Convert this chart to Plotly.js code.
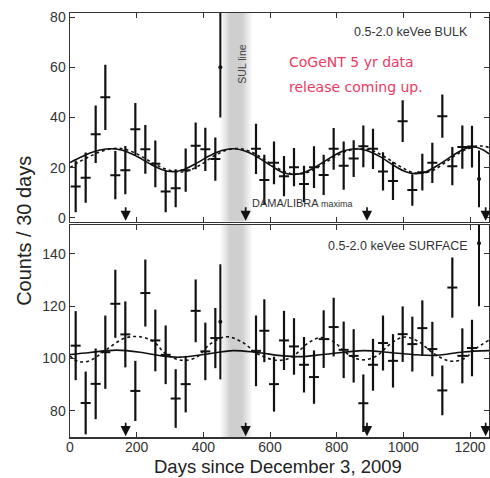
<!DOCTYPE html>
<html>
<head>
<meta charset="utf-8">
<script src="https://cdn.plot.ly/plotly-3.0.1.min.js"></script>
<style>html,body{margin:0;padding:0;background:#fff;}#chart{width:490px;height:478px;}</style>
</head>
<body>
<div id="chart"></div>
<script>
// ---- data ----
var binDays = [17,47,77,106,136,166,196,226,256,287,317,347,377,406,436,
  558,583,612,642,672,702,732,761,791,821,851,880,909,939,969,998,1027,1057,1087,1117,1147,1177,1206];
var bulkCounts = [12.5,16,33.3,48,17,19,35.3,27.3,21.5,10.5,11.8,19,28.7,27.3,23.4,
  27.5,15.1,21.9,16.6,20.2,13.5,20.2,17.1,27.5,20.8,23.6,28.5,27.5,18.5,14.7,38.5,11.1,18.2,21.9,40.5,20.6,28.2,28.4];
var bulkErr = [10.3,10,11.5,13,9.6,9.6,10.4,9.7,9.3,8.3,7.6,8.6,9.3,8.6,8.6,
  10,10,8.5,8,7.6,7.3,8.3,8,8.3,9.6,7.3,8.3,8,7.6,7.6,8.3,6.3,7.3,8,8.6,7.6,8.6,8.3];
var surfCounts = [104.9,83,90.3,102.4,120.9,109.2,87.6,125,106.9,101.4,84.7,90.2,118.2,102.7,107.8,
  102.9,110.6,90.2,106.9,104.6,97.6,92.9,107.4,112,103.3,101,82.9,97.6,105.9,99.1,109.3,105.5,111.6,103.6,87.8,127.1,101,104];
var surfErr = [13.2,12,13.5,14,13,12.6,11.5,12.8,11.8,11.2,11.2,10.8,12,11,11.5,
  13.5,12,10.5,11.3,10.8,10.6,10.2,11,11.2,10.8,10.2,11,9.9,10.5,10.2,10.6,10.5,10.6,10.4,9.5,11.5,10.5,10.8];
var binHalfWidth = 15;

// partial / special bins (SUL line bin and last partial bin)
var specialDays = [451, 1227];
var bulkSpecial = [60, 15.5];
var bulkSpecialErrUp = [25, 11.3];
var bulkSpecialErrDown = [20, 11.3];
var surfSpecial = [114, 144];
var surfSpecialErr = [22, 24];

// fit curves
var bulkFitDays = [0,30,60,90,125,160,200,240,275,307,340,380,420,455,490,525,565,605,640,672,705,745,785,820,855,890,930,970,1005,1037,1070,1110,1150,1185,1212,1240,1257];
var bulkFitSolid = [22,24,25.8,27,27.5,26.8,24.5,21.5,19.3,18.4,19.2,21.8,24.8,26.8,27.5,26.6,24,20.6,18,17.3,18.2,21,24.3,26.6,27.5,26.8,24.4,21,18.5,17.6,18.5,21.5,25,27.5,28.3,27,25.5];
var bulkDotDays = [0,30,60,90,130,160,200,240,280,320,350,390,430,470,505,540,580,620,660,690,720,760,800,840,875,910,950,990,1025,1055,1090,1130,1170,1205,1235,1257];
var bulkFitDotted = [20,22.5,24.5,26.3,27.6,27.5,25.5,22.5,19.8,18.3,18.6,21,24.5,27,27.6,26.5,23.5,20,17.7,17.4,18.5,21.5,24.8,27,27.6,26.6,23.8,20.5,18.2,17.8,19,22.5,26,28,28.6,28];
var surfFitDays = [0,60,140,220,280,330,400,490,560,640,690,760,880,960,1040,1100,1180,1257];
var surfFitSolid = [101.5,102.3,103.2,102.2,100.9,100.5,101.5,103,102.3,101,100.7,101.5,103,102.3,101.4,101.2,102.5,103];
var surfDotDays = [0,25,60,110,165,210,250,290,336,380,420,470,520,560,620,665,710,750,790,830,875,920,965,1005,1045,1090,1140,1180,1220,1257];
var surfFitDotted = [101,98.8,99.2,103.5,107.8,108.3,106.5,101.5,99.3,100.5,105.5,108.3,106,102,99.3,100.5,105.5,108,106.5,102,99.5,101,106,108.2,106.5,102,99,99.8,104,107];

var damaMaxima = [167, 527, 891, 1247];
var xTicks = [0,200,400,600,800,1000,1200];
var bulkTicks = [0,20,40,60,80];
var surfTicks = [80,100,120,140];

// ---- build ----
var ink = '#111';
function fill(n, v){ var a=[]; for(var i=0;i<n;i++) a.push(v); return a; }

function pointsTrace(x, y, err, xa, ya){
  return {x:x, y:y, type:'scatter', mode:'markers', xaxis:xa, yaxis:ya,
    marker:{color:ink, size:1},
    error_y:{type:'data', array:err, visible:true, width:0, thickness:2.2, color:ink},
    error_x:{type:'data', array:fill(x.length, binHalfWidth), visible:true, width:0, thickness:2, color:ink},
    hoverinfo:'skip', showlegend:false};
}
function specialTrace(x, y, up, down, xa, ya){
  return {x:x, y:y, type:'scatter', mode:'markers', xaxis:xa, yaxis:ya,
    marker:{color:ink, size:4},
    error_y:{type:'data', symmetric:false, array:up, arrayminus:down, visible:true, width:0, thickness:2, color:ink},
    error_x:{type:'data', array:fill(x.length, 2), visible:true, width:0, thickness:2, color:ink},
    hoverinfo:'skip', showlegend:false};
}
function lineTrace(x, y, dash, xa, ya){
  return {x:x, y:y, type:'scatter', mode:'lines', xaxis:xa, yaxis:ya,
    line:{color:ink, width:1.6, dash:dash, shape:'spline', smoothing:1},
    hoverinfo:'skip', showlegend:false};
}

var data = [
  lineTrace(bulkDotDays, bulkFitDotted, 'dot', 'x', 'y'),
  lineTrace(bulkFitDays, bulkFitSolid, 'solid', 'x', 'y'),
  pointsTrace(binDays, bulkCounts, bulkErr, 'x', 'y'),
  specialTrace(specialDays, bulkSpecial, bulkSpecialErrUp, bulkSpecialErrDown, 'x', 'y'),
  lineTrace(surfDotDays, surfFitDotted, 'dot', 'x2', 'y2'),
  lineTrace(surfFitDays, surfFitSolid, 'solid', 'x2', 'y2'),
  pointsTrace(binDays, surfCounts, surfErr, 'x2', 'y2'),
  specialTrace(specialDays, surfSpecial, surfSpecialErr, surfSpecialErr, 'x2', 'y2')
];

var tickFont = {family:'Liberation Sans, Arial, sans-serif', size:14, color:'#333'};
function xAxis(anchor, labels){
  return {domain:[0,1], anchor:anchor, range:[0,1257], tickvals:xTicks, showticklabels:labels,
    ticks:'inside', ticklen:5, tickwidth:1, tickcolor:'#333', mirror:'ticks', ticklabelstandoff:-3,
    showline:true, linecolor:'#333', linewidth:1.5, showgrid:false, zeroline:false, tickfont:tickFont};
}
function yAxis(anchor, domain, range, vals){
  return {domain:domain, anchor:anchor, range:range, tickvals:vals,
    ticks:'inside', ticklen:5, tickwidth:1, tickcolor:'#333', mirror:'ticks',
    showline:true, linecolor:'#333', linewidth:1.5, showgrid:false, zeroline:false, tickfont:tickFont};
}

var shapes = [];
var bandLayers = [[452,545],[458,539],[464,533],[469,528],[474,523],[479,518]];
['y domain','y2 domain'].forEach(function(yr){
  bandLayers.forEach(function(b){
    shapes.push({type:'rect', layer:'below', xref:'x', yref:yr, x0:b[0], x1:b[1], y0:0, y1:1,
      fillcolor:'rgba(120,120,120,0.065)', line:{width:0}});
  });
});

var txt = {family:'Liberation Sans, Arial, sans-serif', size:12.5, color:'#333'};
var red = {family:'DejaVu Sans, sans-serif', size:14, color:'#ee3a62'};
var annotations = [
  {xref:'x', yref:'y', x:1200, y:74, xanchor:'right', yanchor:'middle', text:'0.5-2.0 keVee BULK', showarrow:false, font:txt},
  {xref:'x2', yref:'y2', x:1200, y:143, xanchor:'right', yanchor:'middle', text:'0.5-2.0 keVee SURFACE', showarrow:false, font:txt},
  {xref:'x', yref:'y', x:516, y:61, textangle:-90, text:'SUL line', showarrow:false,
    font:{family:'Liberation Sans, Arial, sans-serif', size:10.5, color:'#444'}},
  {xref:'x', yref:'y', x:651, y:62, xanchor:'left', yanchor:'middle', text:'CoGeNT 5 yr data', showarrow:false, font:red},
  {xref:'x', yref:'y', x:651, y:52, xanchor:'left', yanchor:'middle', text:'release coming up.', showarrow:false, font:red},
  {xref:'x', yref:'y', x:540, y:6, xanchor:'left', yanchor:'middle',
    text:'DAMA/LIBRA <span style="font-size:9px">maxima</span>', showarrow:false,
    font:{family:'Liberation Sans, Arial, sans-serif', size:11, color:'#333'}},
  {xref:'paper', yref:'paper', x:-0.11, y:0.486, textangle:-90, text:'Counts / 30 days', showarrow:false,
    xanchor:'center', yanchor:'middle', font:{family:'Liberation Sans, Arial, sans-serif', size:20, color:'#222'}},
  {xref:'paper', yref:'paper', x:0.496, y:-0.0985, text:'Days since December 3, 2009', showarrow:false,
    xanchor:'center', yanchor:'bottom', font:{family:'Liberation Sans, Arial, sans-serif', size:18.5, color:'#222'}}
];
damaMaxima.forEach(function(d){
  annotations.push({xref:'x', yref:'y', x:d, y:-1.2, ax:0, ay:-15, text:'', showarrow:true,
    arrowhead:2, arrowsize:1.2, arrowwidth:1.7, arrowcolor:ink});
  annotations.push({xref:'x2', yref:'y2', x:d, y:70.3, ax:0, ay:-15, text:'', showarrow:true,
    arrowhead:2, arrowsize:1.2, arrowwidth:1.7, arrowcolor:ink});
});

var layout = {
  width:490, height:478,
  margin:{l:70, r:1, t:13, b:41},
  paper_bgcolor:'#fff', plot_bgcolor:'#fff',
  showlegend:false,
  xaxis: xAxis('y', false),
  yaxis: yAxis('x', [0.508, 1], [-1.5, 81.6], bulkTicks),
  xaxis2: xAxis('y2', true),
  yaxis2: yAxis('x2', [0, 0.5], [70, 151], surfTicks),
  shapes: shapes,
  annotations: annotations
};

Plotly.newPlot('chart', data, layout, {staticPlot:true, displayModeBar:false});
</script>
</body>
</html>
